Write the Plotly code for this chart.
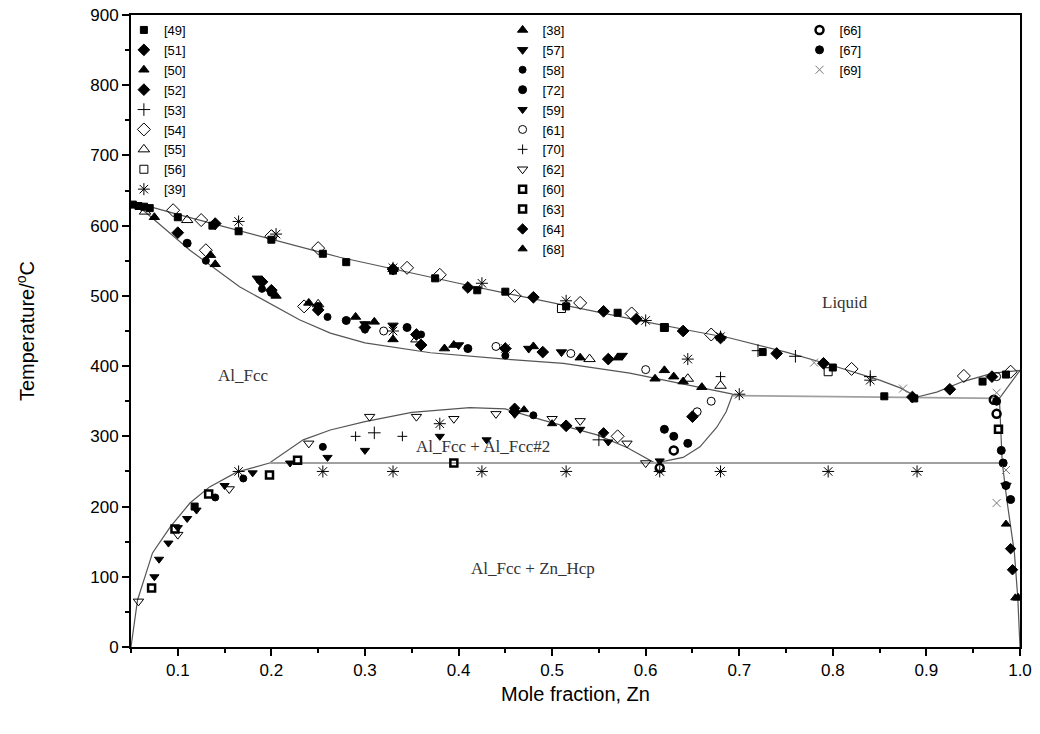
import plotly.graph_objects as go

# phase boundary curves (mole fraction Zn, temperature in C)
liquidus_x = [0.05, 0.07, 0.1, 0.15, 0.2, 0.25, 0.273, 0.3, 0.35, 0.4, 0.45, 0.5, 0.55, 0.6, 0.65, 0.69, 0.75, 0.797, 0.85, 0.872, 0.89]
liquidus_t = [632, 627, 616, 598, 581, 563, 555, 547, 533, 518, 504, 490, 477, 463, 450, 440, 420, 402, 380, 369, 356]

solidus_x = [0.05, 0.063, 0.113, 0.166, 0.23, 0.263, 0.3, 0.37, 0.45, 0.512, 0.583, 0.655, 0.683, 0.693]
solidus_t = [632, 622, 565, 513, 466, 447, 433, 419, 410, 404, 390, 370, 362, 360]

gap_x = [0.05, 0.057, 0.073, 0.092, 0.113, 0.134, 0.163, 0.198, 0.234, 0.263, 0.3, 0.35, 0.412, 0.45, 0.49, 0.548, 0.58, 0.61,
         0.64, 0.658, 0.676, 0.686, 0.693]
gap_t = [0, 67, 134, 171, 205, 228, 249, 262, 295, 309, 321, 334, 341, 339, 323, 302, 284, 262,
         270, 285, 313, 335, 360]

upper_line_x = [0.693, 0.978]
upper_line_t = [358, 354]
eutectoid_x = [0.198, 0.981]
eutectoid_t = [262, 262]

zn_liquidus_x = [0.89, 0.911, 0.939, 0.971, 1.0]
zn_liquidus_t = [356, 363, 378, 390, 394]
zn_solidus_x = [0.978, 1.0]
zn_solidus_t = [354, 394]
zn_solvus_x = [0.978, 0.981, 0.986, 0.994, 0.9976, 1.0]
zn_solvus_t = [354, 263, 209, 134, 71, 0]

# experimental points, one pair of lists per reference
ref49_x = [0.052, 0.058, 0.064, 0.07, 0.1, 0.137, 0.165, 0.2, 0.255, 0.28, 0.33, 0.375, 0.42, 0.45, 0.515, 0.57, 0.62, 0.725, 0.8, 0.855, 0.887, 0.96, 0.985, 0.118]
ref49_t = [630, 628, 627, 625, 612, 600, 592, 580, 560, 548, 536, 525, 508, 506, 485, 476, 455, 420, 398, 357, 354, 378, 388, 200]
ref51_x = [0.14, 0.33, 0.41, 0.48, 0.555, 0.59, 0.64, 0.68, 0.74, 0.79, 0.885, 0.925, 0.97, 0.2, 0.3, 0.36]
ref51_t = [603, 538, 512, 498, 478, 467, 450, 440, 418, 404, 356, 367, 385, 508, 455, 430]
ref50_x = [0.075, 0.14, 0.205, 0.29, 0.33, 0.385, 0.53, 0.61, 0.64, 0.66, 0.33, 0.998]
ref50_t = [612, 545, 500, 470, 438, 425, 412, 382, 378, 370, 538, 70]
ref52_x = [0.1, 0.19, 0.25, 0.355, 0.45, 0.49, 0.56, 0.46, 0.515, 0.65]
ref52_t = [590, 520, 480, 445, 425, 420, 410, 335, 315, 328]
ref53_x = [0.72, 0.76, 0.84, 0.31, 0.55]
ref53_t = [422, 414, 385, 305, 295]
ref54_x = [0.095, 0.125, 0.2, 0.25, 0.345, 0.38, 0.46, 0.53, 0.585, 0.67, 0.82, 0.94, 0.99, 0.13, 0.235, 0.57]
ref54_t = [622, 608, 585, 568, 540, 530, 500, 490, 475, 445, 396, 386, 392, 565, 485, 300]
ref55_x = [0.065, 0.11, 0.25, 0.355, 0.54, 0.645, 0.68]
ref55_t = [620, 608, 488, 438, 410, 382, 372]
ref56_x = [0.795, 0.62, 0.51]
ref56_t = [392, 455, 482]
ref39_x = [0.165, 0.205, 0.33, 0.425, 0.515, 0.6, 0.68, 0.84, 0.33, 0.45, 0.645, 0.7,
           0.165, 0.255, 0.33, 0.425, 0.515, 0.615, 0.68, 0.795, 0.89, 0.38]
ref39_t = [606, 588, 540, 518, 493, 465, 442, 380, 450, 425, 410, 360,
           250, 250, 250, 250, 250, 250, 250, 250, 250, 318]
ref38_x = [0.135, 0.24, 0.31, 0.395, 0.48, 0.57, 0.62, 0.63]
ref38_t = [558, 490, 463, 430, 428, 412, 394, 385]
ref57_x = [0.185, 0.3, 0.33, 0.4, 0.475, 0.51, 0.575, 0.985]
ref57_t = [525, 460, 458, 430, 425, 420, 415, 230]
ref58_x = [0.13, 0.19, 0.26, 0.3, 0.36, 0.45, 0.255, 0.14, 0.17, 0.48]
ref58_t = [550, 510, 470, 452, 445, 415, 285, 213, 240, 330]
ref72_x = [0.11, 0.2, 0.25, 0.28, 0.345, 0.41, 0.62, 0.63, 0.645]
ref72_t = [575, 505, 485, 465, 455, 425, 310, 300, 290]
ref59_x = [0.075, 0.08, 0.09, 0.1, 0.11, 0.12, 0.15, 0.18, 0.22, 0.26, 0.3, 0.38, 0.43, 0.53, 0.56, 0.615]
ref59_t = [100, 125, 148, 170, 183, 195, 230, 248, 262, 270, 280, 300, 295, 310, 292, 265]
ref61_x = [0.32, 0.44, 0.52, 0.6, 0.67, 0.655, 0.975]
ref61_t = [450, 428, 418, 395, 350, 335, 385]
ref70_x = [0.29, 0.34, 0.68]
ref70_t = [300, 300, 385]
ref62_x = [0.058, 0.1, 0.155, 0.24, 0.305, 0.355, 0.395, 0.44, 0.46, 0.5, 0.53, 0.58, 0.6]
ref62_t = [65, 160, 225, 290, 328, 328, 325, 332, 332, 325, 322, 290, 262]
ref60_x = [0.072, 0.097, 0.133, 0.198, 0.228, 0.395]
ref60_t = [84, 168, 218, 245, 266, 262]
ref63_x = [0.977]
ref63_t = [310]
ref64_x = [0.46, 0.555, 0.99, 0.992]
ref64_t = [340, 305, 140, 110]
ref68_x = [0.47, 0.5, 0.985, 0.995]
ref68_t = [338, 318, 175, 70]
ref66_x = [0.972, 0.975, 0.615, 0.63]
ref66_t = [352, 332, 255, 280]
ref67_x = [0.975, 0.98, 0.982, 0.985, 0.99]
ref67_t = [350, 280, 262, 230, 210]
ref69_x = [0.78, 0.875, 0.975, 0.985, 0.975]
ref69_t = [405, 368, 362, 252, 205]

# (label, x, t, symbol, size, legend)
series = [
    ("[49]", ref49_x, ref49_t, "square", 7, "legend"),
    ("[51]", ref51_x, ref51_t, "diamond", 9, "legend"),
    ("[50]", ref50_x, ref50_t, "triangle-up", 9, "legend"),
    ("[52]", ref52_x, ref52_t, "diamond", 9, "legend"),
    ("[53]", ref53_x, ref53_t, "cross-thin-open", 9, "legend"),
    ("[54]", ref54_x, ref54_t, "diamond-open", 10, "legend"),
    ("[55]", ref55_x, ref55_t, "triangle-up-open", 10, "legend"),
    ("[56]", ref56_x, ref56_t, "square-open", 8, "legend"),
    ("[39]", ref39_x, ref39_t, "asterisk-open", 10, "legend"),
    ("[38]", ref38_x, ref38_t, "triangle-up", 9, "legend2"),
    ("[57]", ref57_x, ref57_t, "triangle-down", 9, "legend2"),
    ("[58]", ref58_x, ref58_t, "circle", 7, "legend2"),
    ("[72]", ref72_x, ref72_t, "circle", 8, "legend2"),
    ("[59]", ref59_x, ref59_t, "triangle-down", 8, "legend2"),
    ("[61]", ref61_x, ref61_t, "circle-open", 8, "legend2"),
    ("[70]", ref70_x, ref70_t, "cross-thin-open", 7, "legend2"),
    ("[62]", ref62_x, ref62_t, "triangle-down-open", 9, "legend2"),
    ("[60]", ref60_x, ref60_t, "square-open", 7, "legend2"),
    ("[63]", ref63_x, ref63_t, "square-open", 7, "legend2"),
    ("[64]", ref64_x, ref64_t, "diamond", 8, "legend2"),
    ("[68]", ref68_x, ref68_t, "triangle-up", 8, "legend2"),
    ("[66]", ref66_x, ref66_t, "circle-open", 8, "legend3"),
    ("[67]", ref67_x, ref67_t, "circle", 8, "legend3"),
    ("[69]", ref69_x, ref69_t, "x-thin-open", 8, "legend3"),
]

fig = go.Figure()

dark_line = dict(color="#555555", width=1.2)
grey_line = dict(color="#a0a0a0", width=1.8)
for cx, ct, ln in [(liquidus_x, liquidus_t, dark_line), (solidus_x, solidus_t, dark_line),
                   (gap_x, gap_t, dark_line), (upper_line_x, upper_line_t, grey_line),
                   (eutectoid_x, eutectoid_t, grey_line), (zn_liquidus_x, zn_liquidus_t, dark_line),
                   (zn_solidus_x, zn_solidus_t, dark_line), (zn_solvus_x, zn_solvus_t, dark_line)]:
    fig.add_trace(go.Scatter(x=cx, y=ct, mode="lines", line=ln, showlegend=False, hoverinfo="skip"))

for name, sx, st, sym, size, leg in series:
    col = "#777777" if name == "[69]" else "black"
    lw = 2.5 if name in ("[60]", "[63]", "[66]") else 1
    fig.add_trace(go.Scatter(
        x=sx, y=st, mode="markers", name=name, legend=leg,
        marker=dict(symbol=sym, size=size, color=col, line=dict(color=col, width=lw)),
    ))

label_font = dict(family="Liberation Serif, Times New Roman, serif", size=17, color="#333333")
fig.add_annotation(x=0.813, y=491, text="Liquid", showarrow=False, font=label_font)
fig.add_annotation(x=0.17, y=387, text="Al_Fcc", showarrow=False, font=label_font)
fig.add_annotation(x=0.426, y=285, text="Al_Fcc + Al_Fcc#2", showarrow=False, font=label_font)
fig.add_annotation(x=0.48, y=112, text="Al_Fcc + Zn_Hcp", showarrow=False, font=label_font)

sans = "Arial, Liberation Sans, sans-serif"
leg_style = dict(bgcolor="rgba(0,0,0,0)", xanchor="left", yanchor="top", itemwidth=30, tracegroupgap=0,
                 font=dict(family=sans, size=13, color="black"))
axis_font = dict(family=sans, size=17, color="black")

fig.update_layout(
    width=1040, height=734,
    margin=dict(l=131, r=20, t=15, b=87),
    plot_bgcolor="white", paper_bgcolor="white",
    legend=dict(x=-0.008, y=1.0, **leg_style),
    legend2=dict(x=0.418, y=1.0, **leg_style),
    legend3=dict(x=0.752, y=1.0, **leg_style),
    xaxis=dict(
        range=[0.05, 1.0], tick0=0, dtick=0.1, tickformat=".1f", automargin=False,
        showline=True, linecolor="black", linewidth=2, mirror=True,
        ticks="outside", ticklen=7, tickwidth=1.5, tickcolor="black",
        minor=dict(ticks="outside", ticklen=4, tickwidth=1.5, tickcolor="black", dtick=0.05, tick0=0.05),
        showgrid=False, zeroline=False, tickfont=axis_font,
        title=dict(text="Mole fraction, Zn", font=dict(family=sans, size=20, color="black"), standoff=8),
    ),
    yaxis=dict(
        range=[0, 900], tick0=0, dtick=100, automargin=False,
        showline=True, linecolor="black", linewidth=2, mirror=True,
        ticks="outside", ticklen=7, tickwidth=1.5, tickcolor="black",
        minor=dict(ticks="outside", ticklen=4, tickwidth=1.5, tickcolor="black", dtick=50, tick0=0),
        showgrid=False, zeroline=False, tickfont=axis_font,
        title=dict(text="Temperature/<sup>o</sup>C", font=dict(family=sans, size=20, color="black"), standoff=50),
    ),
)

fig.write_html("out.html", config={"displayModeBar": False},
               post_script="document.body.style.margin='0';")
